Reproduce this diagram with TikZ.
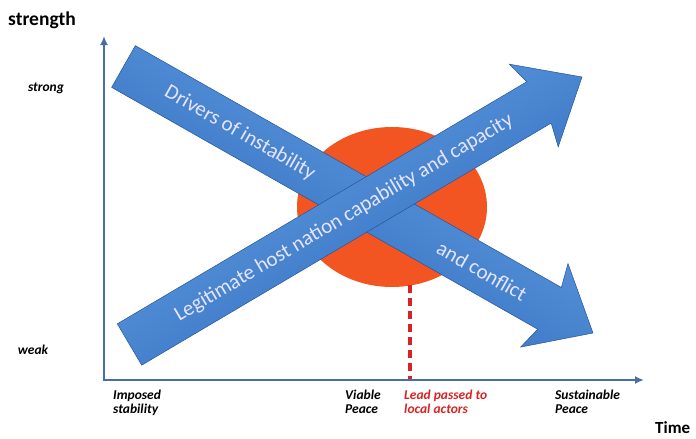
\documentclass[tikz,border=0pt]{standalone}
\usepackage{fontspec}
\setmainfont{Carlito}
\usetikzlibrary{calc,arrows.meta,shapes.geometric}
\definecolor{axisblue}{RGB}{72,110,170}
\definecolor{arrowlight}{RGB}{105,165,230}
\definecolor{arrowdark}{RGB}{42,100,185}
\definecolor{discred}{RGB}{242,84,34}
\definecolor{leadred}{RGB}{215,35,35}
\tikzset{
  axisline/.style={draw=axisblue, line width=2pt},
  bigarrow/.style={draw=arrowdark!85!black, line width=0.5pt, top color=arrowlight, bottom color=arrowdark},
  arrowtext/.style={text=white!90!blue, font=\fontsize{21}{24}\selectfont, inner sep=0pt},
  ticklabel/.style={font=\bfseries\itshape\fontsize{13.5}{14}\selectfont, align=left, anchor=north west, inner sep=0pt},
  axislabel/.style={font=\bfseries\fontsize{17}{20}\selectfont, inner sep=0pt},
  disc/.style={ellipse, fill=discred, draw=none, minimum width=190pt, minimum height=160pt, inner sep=0pt},
  leadline/.style={draw=leadred, line width=4pt, dash pattern=on 8pt off 5pt},
}
\begin{document}
\begin{tikzpicture}[x=1pt,y=-1pt]
\useasboundingbox (0,0) rectangle (696,439);
% axes
\coordinate (O) at (104,380);
\coordinate (ytop) at (104,36);
\coordinate (xend) at (644,380);
\draw[axisline, {Latex[length=9pt,width=8pt]}-{Latex[length=9pt,width=8pt]}] (ytop) -- (O) -- (xend);
% disc
\node[disc] (disc) at (392,207) {};
\coordinate (leadtop) at (410,285);
\coordinate (leadbot) at (410,379);
\draw[leadline] (leadtop) -- (leadbot);
% arrow 1: drivers of instability
\coordinate (A1) at (123.5,66.5);
\coordinate (B1) at (593,333);
\coordinate (H1) at ($(B1)!50pt!(A1)$);
\coordinate (K1) at ($(B1)!56pt!(A1)$);
\path[bigarrow, shading angle=-29.6]
  ($(A1)!24pt!90:(B1)$) -- ($(H1)!24pt!90:(B1)$) -- ($(K1)!48pt!90:(B1)$) -- (B1)
  -- ($(K1)!48pt!-90:(B1)$) -- ($(H1)!24pt!-90:(B1)$) -- ($(A1)!24pt!-90:(B1)$) -- cycle;
\node[arrowtext, rotate=-29.6] (drivers) at (240,133) {Drivers of instability};
\node[arrowtext, rotate=-29.6] (conflict) at (482,271) {and conflict};
% arrow 2: legitimate host nation
\coordinate (A2) at (129.5,344.5);
\coordinate (B2) at (582,77);
\coordinate (H2) at ($(B2)!50pt!(A2)$);
\coordinate (K2) at ($(B2)!56pt!(A2)$);
\path[bigarrow, shading angle=30.6]
  ($(A2)!24pt!90:(B2)$) -- ($(H2)!24pt!90:(B2)$) -- ($(K2)!48pt!90:(B2)$) -- (B2)
  -- ($(K2)!48pt!-90:(B2)$) -- ($(H2)!24pt!-90:(B2)$) -- ($(A2)!24pt!-90:(B2)$) -- cycle;
\node[arrowtext, rotate=30.6] (legit) at (344,218) {Legitimate host nation capability and capacity};
% labels
\node[axislabel, font=\bfseries\fontsize{19.5}{22}\selectfont, anchor=west] (strength) at (8,20) {strength};
\node[axislabel, anchor=west] (time) at (655,428) {Time};
\node[ticklabel, anchor=center] (strong) at (46,88) {strong};
\node[ticklabel, anchor=center] (weak) at (33,350) {weak};
\node[ticklabel] (imposed) at (113,390) {Imposed\\stability};
\node[ticklabel] (viable) at (345,390) {Viable\\Peace};
\node[ticklabel, text=leadred] (lead) at (404,390) {Lead passed to\\local actors};
\node[ticklabel] (sustain) at (555,390) {Sustainable\\Peace};
\end{tikzpicture}
\end{document}
